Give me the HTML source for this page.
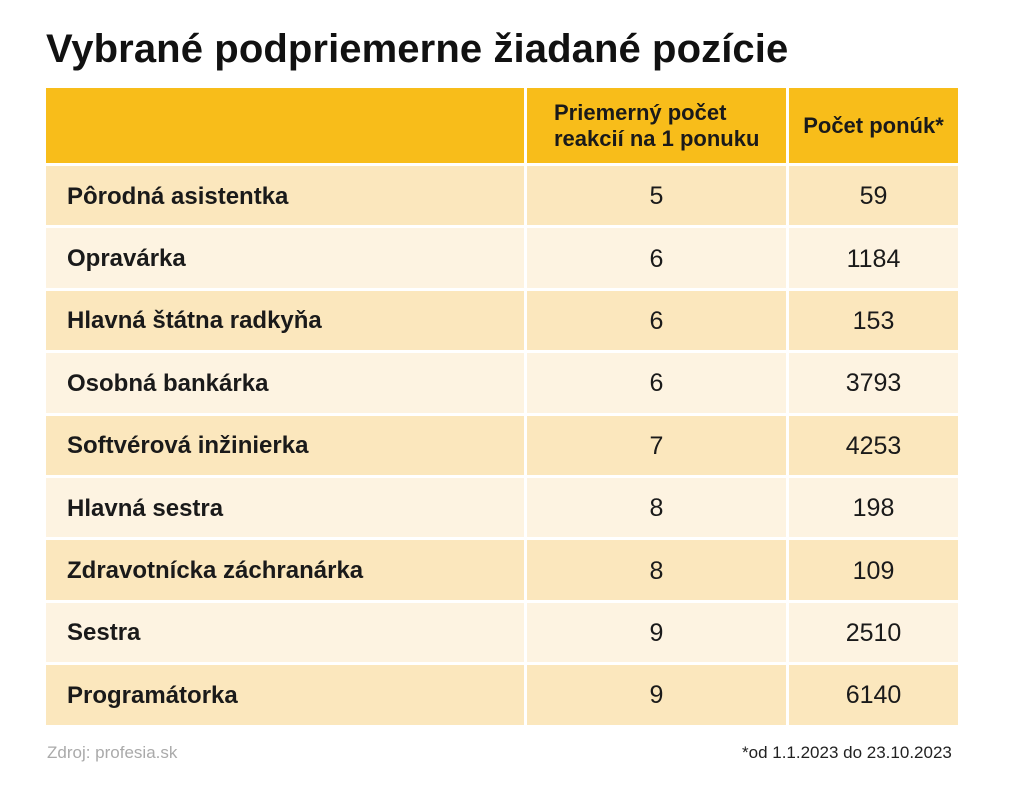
<!DOCTYPE html>
<html><head><meta charset="utf-8"><style>
*{margin:0;padding:0;box-sizing:border-box}
body{width:1024px;height:792px;background:#fff;position:relative;overflow:hidden;font-family:"Liberation Sans",sans-serif;color:#1a1a1a}
.t{position:absolute;left:46px;top:27px;font-size:40px;font-weight:bold;letter-spacing:0.1px;white-space:nowrap;color:#111}
.c{position:absolute;display:flex;align-items:center}
.h{background:#f8bd1a;font-weight:bold;font-size:22px;line-height:26px}
.n{font-weight:bold;font-size:24px;padding-left:21px;padding-top:2px}
.v{justify-content:center;font-size:25px;padding-top:2px}
.f{position:absolute;font-size:17px}
</style></head><body>
<div class="t">Vybrané podpriemerne žiadané pozície</div>
<div class="c h" style="left:46px;top:88px;width:478px;height:75px"></div>
<div class="c h" style="left:527px;top:88px;width:259px;height:75px;padding-left:27px">Priemerný počet<br>reakcií na 1 ponuku</div>
<div class="c h" style="left:789px;top:88px;width:169px;height:75px;justify-content:center">Počet ponúk*</div>
<div id="rows"></div>
<div class="f" style="left:47px;top:743px;color:#aaa">Zdroj: profesia.sk</div>
<div class="f" style="left:742px;top:743px;color:#222">*od 1.1.2023 do 23.10.2023</div>
<script>
var d=[["Pôrodná asistentka",5,59],["Opravárka",6,1184],["Hlavná štátna radkyňa",6,153],["Osobná bankárka",6,3793],["Softvérová inžinierka",7,4253],["Hlavná sestra",8,198],["Zdravotnícka záchranárka",8,109],["Sestra",9,2510],["Programátorka",9,6140]];
var h="";
d.forEach(function(r,i){var y=166+i*62.4,bg=i%2?"#fdf3e1":"#fbe7bd",s="top:"+y+"px;height:59.4px;background:"+bg+";";
h+='<div class="c n" style="left:46px;width:478px;'+s+'">'+r[0]+'</div>';
h+='<div class="c v" style="left:527px;width:259px;'+s+'">'+r[1]+'</div>';
h+='<div class="c v" style="left:789px;width:169px;'+s+'">'+r[2]+'</div>';});
document.getElementById("rows").innerHTML=h;
</script>
</body></html>
